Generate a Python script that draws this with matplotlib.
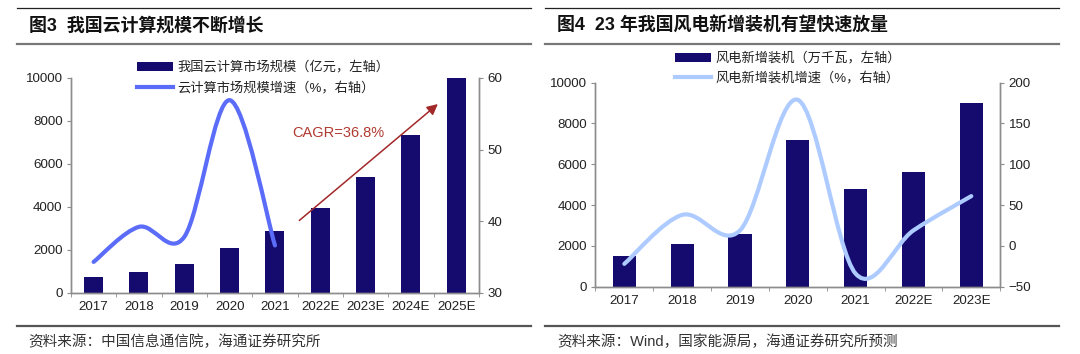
import numpy as np
import matplotlib
matplotlib.use('Agg')
import matplotlib.pyplot as plt
from matplotlib.path import Path
from matplotlib.patches import PathPatch, Patch
from matplotlib.lines import Line2D

plt.rcParams['font.family'] = ['Liberation Sans', 'Noto Sans CJK SC']

# 图3 我国云计算规模
cloud_years = ['2017', '2018', '2019', '2020', '2021', '2022E', '2023E', '2024E', '2025E']
cloud_size = [715, 980, 1350, 2100, 2880, 3940, 5380, 7330, 10000]   # 亿元
cloud_growth = [34.3, 39.2, 37.8, 56.9, 36.6]                         # %

# 图4 风电新增装机
wind_years = ['2017', '2018', '2019', '2020', '2021', '2022E', '2023E']
wind_new = [1500, 2070, 2600, 7170, 4770, 5620, 9000]                 # 万千瓦
wind_growth = [-22, 38, 19, 179, -34, 19, 61]                         # %

BAR = '#150a6e'
LINE1 = '#5a6cf8'
LINE2 = '#aecbff'
GRID = '#8c8c8c'
TXT = '#222222'


def smooth_path(x, y):
    # excel-like smoothed line (catmull-rom -> bezier)
    x = np.asarray(x, float)
    y = np.asarray(y, float)
    px = np.r_[x[0], x, x[-1]]
    py = np.r_[y[0], y, y[-1]]
    verts = [(x[0], y[0])]
    codes = [Path.MOVETO]
    for i in range(1, len(x)):
        c1 = (px[i] + (px[i + 1] - px[i - 1]) / 6, py[i] + (py[i + 1] - py[i - 1]) / 6)
        c2 = (px[i + 1] - (px[i + 2] - px[i]) / 6, py[i + 1] - (py[i + 2] - py[i]) / 6)
        verts += [c1, c2, (x[i], y[i])]
        codes += [Path.CURVE4] * 3
    return Path(verts, codes)


def style_axes(ax, ax2, n):
    for a in (ax, ax2):
        a.spines['top'].set_visible(False)
        for s in ('left', 'right', 'bottom'):
            a.spines[s].set_color(GRID)
            a.spines[s].set_linewidth(1.0)
        a.tick_params(axis='y', colors=GRID, labelcolor=TXT, labelsize=9.6, length=3, pad=3)
    ax.set_xlim(-0.5, n - 0.5)
    ax.set_xticks(range(n))
    ax.set_xticks(np.arange(n + 1) - 0.5, minor=True)
    ax.tick_params(axis='x', which='major', length=0, labelsize=9.6, labelcolor=TXT, pad=6)
    ax.tick_params(axis='x', which='minor', length=3, color=GRID)


fig = plt.figure(figsize=(10.8, 3.54), dpi=100)

# ---------- left chart ----------
ax = fig.add_axes([0.0657, 0.1732, 0.3778, 0.6065])
ax2 = ax.twinx()
x1 = np.arange(len(cloud_years))
ax.bar(x1, cloud_size, width=0.42, color=BAR, zorder=2)
ax.set_ylim(0, 10000)
ax.set_yticks(range(0, 10001, 2000))
ax.set_xticklabels(cloud_years)
ax2.set_ylim(30, 60)
ax2.set_yticks([30, 40, 50, 60])
ax2.add_patch(PathPatch(smooth_path(x1[:len(cloud_growth)], cloud_growth), fill=False,
                        edgecolor=LINE1, lw=3, capstyle='round'))
style_axes(ax, ax2, len(cloud_years))

ax.annotate('', xy=(7.64, 8870), xytext=(4.49, 3280),
            arrowprops=dict(arrowstyle='-|>', color='#a3282a', lw=1.1, mutation_scale=16))
ax.text(5.4, 7450, 'CAGR=36.8%', color='#b03a30', fontsize=10.5, ha='center', va='center')

h1 = [Patch(facecolor=BAR), Line2D([], [], color=LINE1, lw=3)]
fig.legend(h1, ['我国云计算市场规模（亿元，左轴）', '云计算市场规模增速（%，右轴）'],
           loc='upper left', bbox_to_anchor=(137 / 1080, 1 - 61 / 354), frameon=False,
           fontsize=9.5, handlelength=2.7, handletextpad=0.35, labelspacing=0.6,
           borderpad=0, borderaxespad=0, labelcolor=TXT)

# ---------- right chart ----------
bx = fig.add_axes([0.5513, 0.1901, 0.3748, 0.5763])
bx2 = bx.twinx()
x2 = np.arange(len(wind_years))
bx.bar(x2, wind_new, width=0.40, color=BAR, zorder=2)
bx.set_ylim(0, 10000)
bx.set_yticks(range(0, 10001, 2000))
bx.set_xticklabels(wind_years)
bx2.set_ylim(-50, 200)
bx2.set_yticks(range(-50, 201, 50))
bx2.add_patch(PathPatch(smooth_path(x2, wind_growth), fill=False,
                        edgecolor=LINE2, lw=3, capstyle='round'))
style_axes(bx, bx2, len(wind_years))

h2 = [Patch(facecolor=BAR), Line2D([], [], color=LINE2, lw=3)]
fig.legend(h2, ['风电新增装机（万千瓦，左轴）', '风电新增装机增速（%，右轴）'],
           loc='upper left', bbox_to_anchor=(675 / 1080, 1 - 52 / 354), frameon=False,
           fontsize=9.5, handlelength=2.7, handletextpad=0.35, labelspacing=0.5,
           borderpad=0, borderaxespad=0, labelcolor=TXT)

# ---------- titles, rules, sources ----------
def hline(x0, x1_, y, color, lw):
    fig.add_artist(Line2D([x0 / 1080, x1_ / 1080], [1 - y / 354, 1 - y / 354],
                          color=color, lw=lw, transform=fig.transFigure))

for (l, r) in [(17, 531), (545, 1059)]:
    hline(l, r, 8.3, '#222222', 0.9)
    hline(l, r, 44, '#777777', 1.6)
    hline(l, r, 326, '#555555', 1.6)

fig.text(29 / 1080, 1 - 26 / 354, '图3  我国云计算规模不断增长', fontsize=12.9,
         fontweight='bold', color='#111111', va='center', ha='left')
fig.text(557 / 1080, 1 - 26 / 354, '图4  23 年我国风电新增装机有望快速放量', fontsize=12.9,
         fontweight='bold', color='#111111', va='center', ha='left')
fig.text(28 / 1080, 1 - 342 / 354, '资料来源：中国信息通信院，海通证券研究所', fontsize=10.5,
         color='#333333', va='center', ha='left')
fig.text(557 / 1080, 1 - 342 / 354, '资料来源：Wind，国家能源局，海通证券研究所预测', fontsize=10.5,
         color='#333333', va='center', ha='left')

fig.savefig('out.png', dpi=100)
